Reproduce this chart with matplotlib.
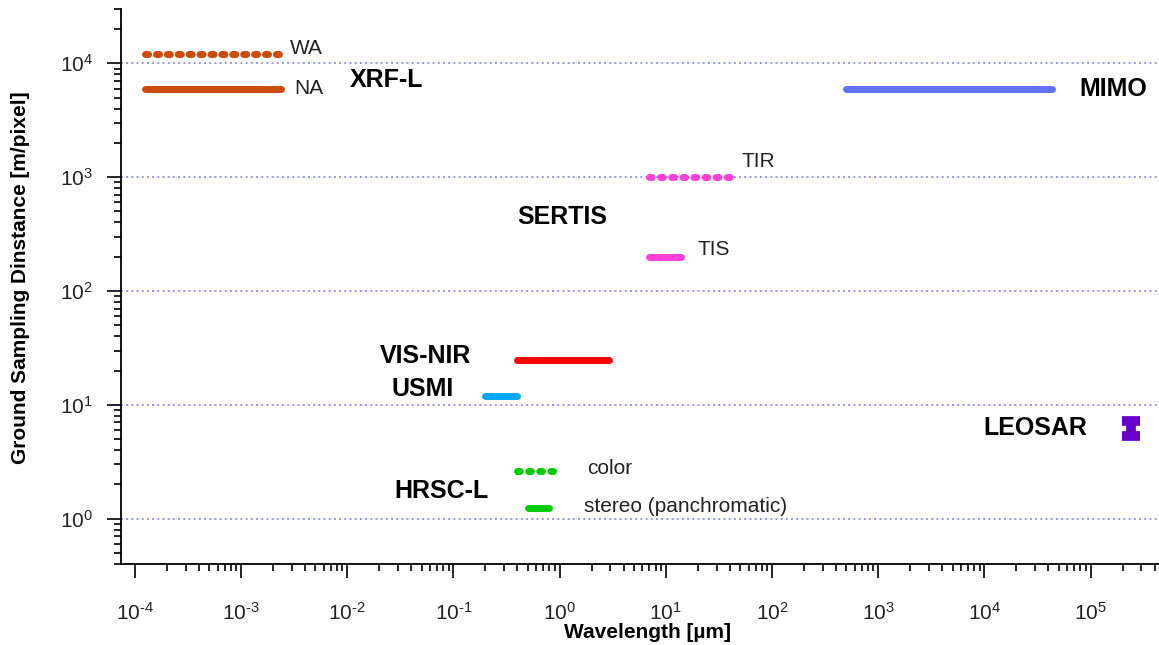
import matplotlib
matplotlib.use('Agg')
import matplotlib.pyplot as plt
from matplotlib.ticker import FixedLocator, FuncFormatter, NullFormatter
import math

plt.rcParams['font.family'] = ['Liberation Sans', 'DejaVu Sans']
plt.rcParams['mathtext.fontset'] = 'custom'
plt.rcParams['mathtext.rm'] = 'Liberation Sans'
plt.rcParams['mathtext.it'] = 'Liberation Sans'
plt.rcParams['mathtext.default'] = 'regular'
plt.rcParams['axes.unicode_minus'] = False

# 仪器数据: (波长范围 µm, 地面采样距离 m/pixel)
wa_x = [1.25e-4, 2.3e-3]
wa_y = [1.2e4, 1.2e4]
na_x = [1.25e-4, 2.4e-3]
na_y = [6000, 6000]
mimo_x = [500, 4.3e4]
mimo_y = [6000, 6000]
tir_x = [7, 40]
tir_y = [1000, 1000]
tis_x = [7, 14]
tis_y = [200, 200]
visnir_x = [0.4, 2.9]
visnir_y = [25, 25]
usmi_x = [0.2, 0.4]
usmi_y = [12, 12]
color_x = [0.4, 0.86]
color_y = [2.6, 2.6]
stereo_x = [0.5, 0.8]
stereo_y = [1.25, 1.25]
leosar_x = [2.4e5, 2.4e5]
leosar_y = [5.3, 7.2]

x_decades = [-4, -3, -2, -1, 0, 1, 2, 3, 4, 5]
y_decades = [-1, 0, 1, 2, 3, 4]


def pow10_label(v, pos):
    # 用普通连字符作负号, 与原图一致
    d = int(round(math.log10(v)))
    return r'$10^{\text{%d}}$' % d


fig = plt.figure(figsize=(11.59, 6.45), dpi=100)
ax = fig.add_axes([121 / 1159, 1 - 564 / 645, 1 - 121 / 1159, (564 - 9) / 645])
ax.set_xscale('log')
ax.set_yscale('log')
ax.set_xlim(7.4e-5, 4.4e5)
ax.set_ylim(0.4, 3e4)

# 网格: 蓝色点线
for v in [1, 10, 100, 1000, 10000]:
    ax.axhline(v, color='#7070ff', lw=1.1, ls=(0, (1.2, 2.2)), zorder=1)

lw = 5
dot = dict(lw=lw, dash_capstyle='round', solid_capstyle='round')
ax.plot(wa_x, wa_y, color='#cc4a0a', ls=(0, (0.45, 1.12)), **dot)
ax.plot(na_x, na_y, color='#cc4a0a', **dot)
ax.plot(mimo_x, mimo_y, color='#6070ff', **dot)
ax.plot(tir_x, tir_y, color='#ff40d8', ls=(0, (0.4, 1.2)), **dot)
ax.plot(tis_x, tis_y, color='#ff40d8', **dot)
ax.plot(visnir_x, visnir_y, color='#ff0000', **dot)
ax.plot(usmi_x, usmi_y, color='#00a8ff', **dot)
ax.plot(color_x, color_y, color='#00cc00', ls=(0, (0.4, 1.2)), **dot)
ax.plot(stereo_x, stereo_y, color='#00cc00', **dot)
ax.plot(leosar_x, leosar_y, color='#6a00cc', lw=7, solid_capstyle='butt',
        marker='_', ms=13, mew=7)

# 文本标注
small = dict(fontsize=15, color='#222222', va='center', ha='left')
big = dict(fontsize=18, fontweight='bold', color='black', va='center', ha='left')
ax.text(2.9e-3, 1.35e4, 'WA', **small)
ax.text(3.2e-3, 6000, 'NA', **small)
ax.text(0.0106, 7100, 'XRF-L', **big)
ax.text(7.9e4, 5900, 'MIMO', **big)
ax.text(52, 1380, 'TIR', **small)
ax.text(20, 231, 'TIS', **small)
ax.text(0.40, 443, 'SERTIS', **big)
ax.text(0.0203, 27, 'VIS-NIR', **big)
ax.text(0.0263, 13.9, 'USMI', **big)
ax.text(1.8, 2.74, 'color', **small)
ax.text(1.7, 1.27, 'stereo (panchromatic)', **small)
ax.text(0.028, 1.76, 'HRSC-L', **big)
ax.text(9860, 6.2, 'LEOSAR', **big)

ax.xaxis.set_major_locator(FixedLocator([10.0 ** d for d in x_decades]))
ax.xaxis.set_minor_locator(FixedLocator([m * 10.0 ** d for d in x_decades for m in range(2, 10)]))
ax.yaxis.set_major_locator(FixedLocator([10.0 ** d for d in y_decades]))
ax.yaxis.set_minor_locator(FixedLocator([m * 10.0 ** d for d in y_decades for m in range(2, 10)]))
ax.xaxis.set_major_formatter(FuncFormatter(pow10_label))
ax.yaxis.set_major_formatter(FuncFormatter(pow10_label))
ax.xaxis.set_minor_formatter(NullFormatter())
ax.yaxis.set_minor_formatter(NullFormatter())

ax.tick_params(which='major', length=10, width=1.2, labelsize=15, labelcolor='#222222')
ax.tick_params(which='minor', length=5, width=1.2)
ax.tick_params(axis='x', which='major', pad=17)
ax.tick_params(axis='y', which='major', pad=10)

for s in ['top', 'right']:
    ax.spines[s].set_visible(False)
for s in ['left', 'bottom']:
    ax.spines[s].set_linewidth(1.3)

ax.set_xlabel('Wavelength [µm]', fontsize=15, fontweight='bold')
ax.set_ylabel('Ground Sampling Dinstance [m/pixel]', fontsize=15, fontweight='bold')
ax.xaxis.set_label_coords(0.507, -0.106)
ax.yaxis.set_label_coords(-0.088, 0.515)

fig.savefig('out.png', dpi=100)
